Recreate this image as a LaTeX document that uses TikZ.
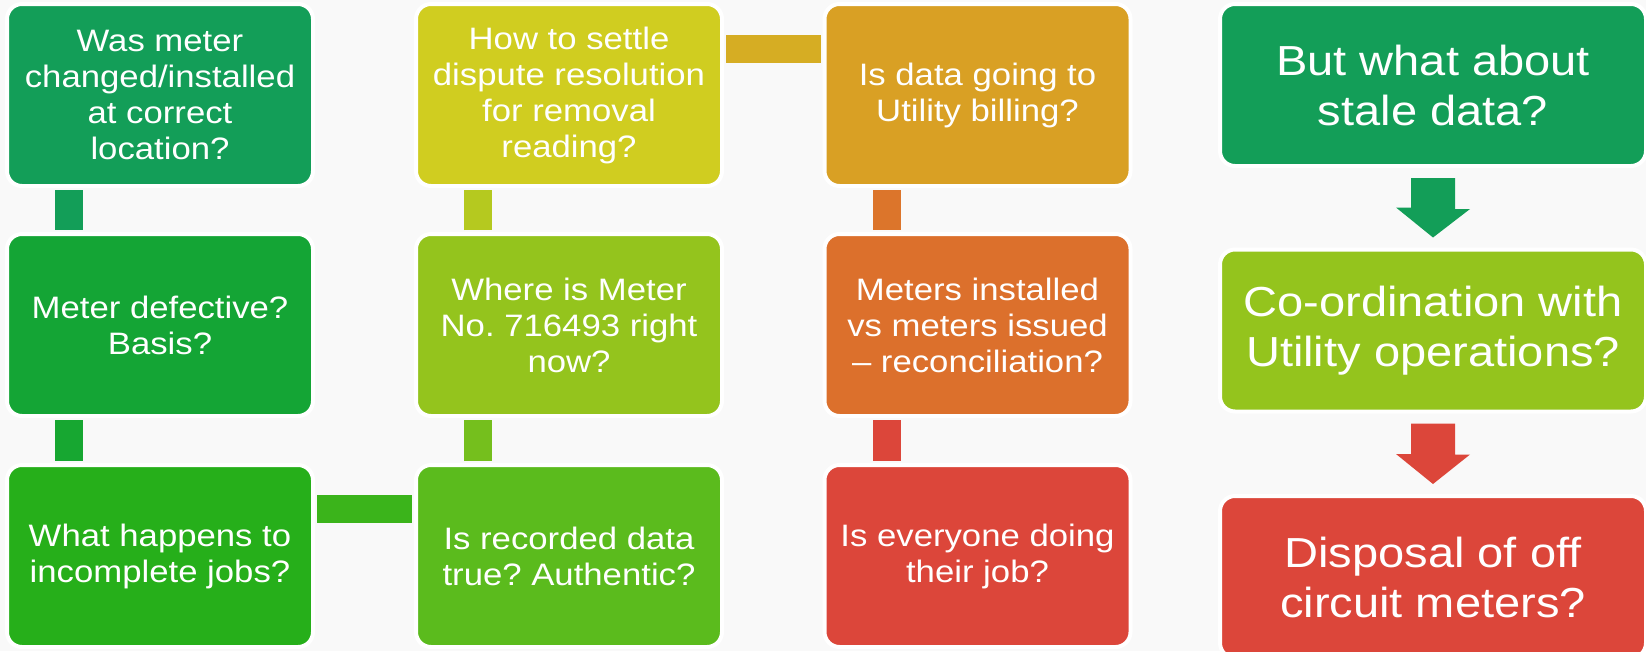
\documentclass[tikz,border=0pt]{standalone}
\usepackage{fontspec}
\setmainfont{Liberation Sans}[FakeStretch=1.12]
\usepackage{xcolor}
\usepackage{tikz}
\usetikzlibrary{positioning,calc}
\frenchspacing
\definecolor{bggray}{RGB}{249,249,249}
\definecolor{teal1}{RGB}{19,158,88}
\definecolor{green1}{RGB}{20,165,53}
\definecolor{green2}{RGB}{38,175,26}
\definecolor{green3}{RGB}{91,187,29}
\definecolor{lime1}{RGB}{148,196,29}
\definecolor{yellow1}{RGB}{208,205,32}
\definecolor{amber1}{RGB}{217,160,36}
\definecolor{orange1}{RGB}{220,112,44}
\definecolor{red1}{RGB}{220,70,58}

\begin{document}
\begin{tikzpicture}[x = 1pt, y = -1pt,
    qbox/.style = {rectangle, rounded corners = 15pt, draw = white, line width = 4pt, text = white, align = center, inner sep = 0pt, outer sep = 0pt, minimum width = 306pt, minimum height = 182pt, font = \fontsize{31}{36}\selectfont},
    bigbox/.style = {qbox, minimum width = 426pt, minimum height = 162pt, font = \fontsize{42}{50}\selectfont},
    link/.style = {line width = 28pt}]
    \fill[bggray] (0,0) rectangle (1646,651);
    \useasboundingbox (0,0) rectangle (1646,651);
    %%%%%%%%%% first column
    \node[qbox, fill = teal1] (changed) at (160,95) {Was meter\\changed/installed\\at correct\\location?};
    \node[qbox, fill = green1] (defective) at (160,325) {Meter defective?\\Basis?};
    \node[qbox, fill = green2] (incomplete) at (160,556) {What happens to\\incomplete jobs?};
    %%%%%%%%%% second column
    \node[qbox, fill = yellow1] (settle) at (569,95) {How to settle\\dispute resolution\\for removal\\reading?};
    \node[qbox, fill = lime1] (whereis) at (569,325) {Where is Meter\\No. 716493 right\\now?};
    \node[qbox, fill = green3] (recorded) at (569,556) {Is recorded data\\true? Authentic?};
    %%%%%%%%%% third column
    \node[qbox, fill = amber1] (billing) at (977.5,95) {Is data going to\\Utility billing?};
    \node[qbox, fill = orange1] (reconcile) at (977.5,325) {Meters installed\\vs meters issued\\-- reconciliation?};
    \node[qbox, fill = red1] (everyone) at (977.5,556) {Is everyone doing\\their job?};
    %%%%%%%%%% right column
    \node[bigbox, fill = teal1] (stale) at (1433,85) {But what about\\stale data?};
    \node[bigbox, fill = lime1] (coord) at (1433,330.5) {Co-ordination with\\Utility operations?};
    \node[bigbox, fill = red1] (disposal) at (1433,577) {Disposal of off\\circuit meters?};
    %%%%%%%%%%
    \draw[link, teal1] ([xshift=-91pt, yshift=-4pt]changed.south) -- ([xshift=-91pt, yshift=4pt]defective.north);
    \draw[link, green1!85!green2] ([xshift=-91pt, yshift=-4pt]defective.south) -- ([xshift=-91pt, yshift=4pt]incomplete.north);
    \draw[link, green2!60!green3] ([xshift=4pt, yshift=-44pt]incomplete.north east) -- ([xshift=-4pt, yshift=-44pt]recorded.north west);
    \draw[link, green3!55!lime1] ([xshift=-91pt, yshift=4pt]recorded.north) -- ([xshift=-91pt, yshift=-4pt]whereis.south);
    \draw[link, lime1!45!yellow1] ([xshift=-91pt, yshift=4pt]whereis.north) -- ([xshift=-91pt, yshift=-4pt]settle.south);
    \draw[link, yellow1!30!amber1] ([xshift=4pt, yshift=-45pt]settle.north east) -- ([xshift=-4pt, yshift=-45pt]billing.north west);
    \draw[link, orange1!90!amber1] ([xshift=-91pt, yshift=-4pt]billing.south) -- ([xshift=-91pt, yshift=4pt]reconcile.north);
    \draw[link, red1] ([xshift=-91pt, yshift=-4pt]reconcile.south) -- ([xshift=-91pt, yshift=4pt]everyone.north);
    % block arrows down the right column
    \fill[teal1] ([xshift=-22pt, yshift=-12pt]stale.south) -- ++(44,0) -- ++(0,31) -- ++(15,0) -- ([yshift=12pt]coord.north) -- ++(-37,-30) -- ++(15,0) -- cycle;
    \fill[red1] ([xshift=-22pt, yshift=-12pt]coord.south) -- ++(44,0) -- ++(0,31) -- ++(15,0) -- ([yshift=12pt]disposal.north) -- ++(-37,-30) -- ++(15,0) -- cycle;
\end{tikzpicture}
\end{document}
